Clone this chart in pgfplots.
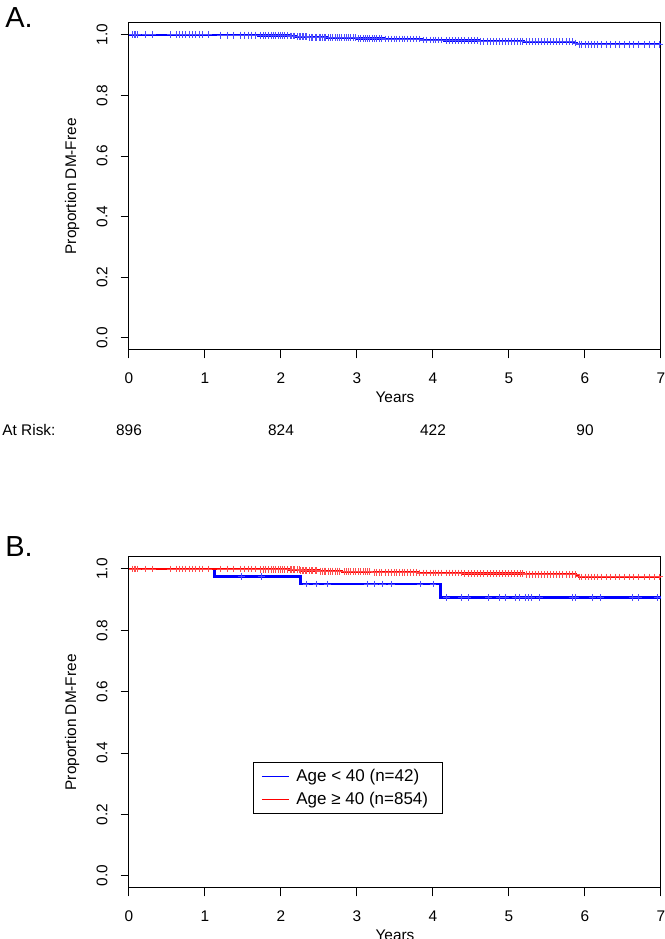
\documentclass[border=0pt]{standalone}
\usepackage{fontspec}
\setmainfont{Liberation Sans}
\usepackage{pgfplots}
\pgfplotsset{compat=1.18}
\begin{document}
\begin{tikzpicture}
\useasboundingbox (0pt,0pt) rectangle (332.5pt,469.5pt);
\pgfplotsset{kmaxis/.style={
  scale only axis, width=266pt,
  xmin=0,xmax=7,ymin=-0.04,ymax=1.04,
  xtick={0,1,2,3,4,5,6,7}, ytick={0,0.2,0.4,0.6,0.8,1.0},
  tick align=outside, xtick pos=bottom, ytick pos=left,
  major tick length=4.2pt,
  tick style={black, line width=0.5pt},
  axis line style={black, line width=0.5pt},
  ticklabel style={font=\fontsize{7.7}{9}\selectfont},
  /pgf/number format/assume math mode=true,
  yticklabel={\pgfmathprintnumber[fixed,fixed zerofill,precision=1]{\tick}},
  yticklabel style={rotate=90, anchor=south, yshift=3pt},
  xticklabel style={yshift=-3.5pt},
  label style={font=\fontsize{7.7}{9}\selectfont},
  xlabel={Years}, ylabel={Proportion DM-Free},
  ylabel style={at={(axis description cs:-0.107,0.5)}, anchor=center},
}}
% ---------------- Panel A ----------------
\begin{axis}[kmaxis, at={(64.5pt,294.5pt)}, anchor=south west, height=163.65pt,
  xlabel style={at={(axis description cs:0.5,-0.1436)}, anchor=center}]
\addplot[const plot, blue, line width=1.1pt] coordinates {
(0,1.000) (1.12,0.999) (1.70,0.998) (2.10,0.996) (2.20,0.994) (2.35,0.992) (2.60,0.990)
(3.00,0.988) (3.35,0.986) (3.85,0.983) (4.15,0.981) (4.60,0.979) (5.20,0.977) (5.85,0.973)
(5.90,0.969) (7.00,0.969)};
\addplot[only marks, mark=+, mark size=1.7pt, mark options={blue!70, line width=0.45pt}] coordinates {
(0.05,1.000) (0.07,1.000) (0.09,1.000) (0.11,1.000) (0.22,1.000) (0.31,1.000) (0.55,1.000) (0.62,1.000)
(0.66,1.000) (0.70,1.000) (0.74,1.000) (0.79,1.000) (0.83,1.000) (0.88,1.000) (0.93,1.000) (0.97,1.000) (1.05,1.000)
(1.20,0.999) (1.30,0.999) (1.38,0.999) (1.46,0.999) (1.52,0.999) (1.57,0.999) (1.61,0.999) (1.66,0.999)
(1.73,0.998) (1.77,0.998) (1.80,0.998) (1.84,0.998) (1.87,0.998) (1.90,0.998) (1.93,0.998) (1.96,0.998)
(1.99,0.998) (2.02,0.998) (2.05,0.998) (2.08,0.998)
(2.12,0.996) (2.14,0.996) (2.16,0.996) (2.18,0.996)
(2.22,0.994) (2.24,0.994) (2.26,0.994) (2.28,0.994) (2.30,0.994) (2.32,0.994) (2.34,0.994)
(2.37,0.992) (2.40,0.992) (2.42,0.992) (2.45,0.992) (2.47,0.992) (2.50,0.992) (2.52,0.992) (2.55,0.992) (2.57,0.992) (2.59,0.992)
(2.62,0.990) (2.65,0.990) (2.68,0.990) (2.71,0.990) (2.74,0.990) (2.77,0.990) (2.80,0.990) (2.83,0.990) (2.86,0.990)
(2.89,0.990) (2.92,0.990) (2.95,0.990) (2.98,0.990)
(3.02,0.988) (3.05,0.988) (3.08,0.988) (3.11,0.988) (3.14,0.988) (3.17,0.988) (3.20,0.988) (3.23,0.988) (3.26,0.988) (3.29,0.988) (3.32,0.988)
(3.38,0.986) (3.42,0.986) (3.45,0.986) (3.49,0.986) (3.52,0.986) (3.56,0.986) (3.60,0.986) (3.63,0.986) (3.67,0.986)
(3.70,0.986) (3.74,0.986) (3.78,0.986) (3.82,0.986)
(3.88,0.983) (3.92,0.983) (3.96,0.983) (4.00,0.983) (4.03,0.983) (4.07,0.983) (4.11,0.983)
(4.18,0.981) (4.22,0.981) (4.26,0.981) (4.30,0.981) (4.34,0.981) (4.38,0.981) (4.42,0.981) (4.46,0.981) (4.50,0.981) (4.54,0.981) (4.58,0.981)
(4.63,0.979) (4.67,0.979) (4.71,0.979) (4.75,0.979) (4.79,0.979) (4.83,0.979) (4.87,0.979) (4.91,0.979) (4.95,0.979)
(4.99,0.979) (5.03,0.979) (5.07,0.979) (5.11,0.979) (5.15,0.979) (5.18,0.979)
(5.23,0.977) (5.27,0.977) (5.31,0.977) (5.35,0.977) (5.39,0.977) (5.43,0.977) (5.47,0.977) (5.51,0.977) (5.55,0.977)
(5.59,0.977) (5.63,0.977) (5.67,0.977) (5.71,0.977) (5.75,0.977) (5.79,0.977) (5.83,0.977)
(5.87,0.973)
(5.93,0.969) (5.96,0.969) (6.00,0.969) (6.04,0.969) (6.08,0.969) (6.12,0.969) (6.17,0.969) (6.22,0.969) (6.28,0.969)
(6.33,0.969) (6.40,0.969) (6.46,0.969) (6.52,0.969) (6.58,0.969) (6.64,0.969) (6.70,0.969) (6.78,0.969) (6.85,0.969)
(6.92,0.969) (6.98,0.969)};
\end{axis}
% At-risk row
\node[anchor=west, font=\fontsize{7.7}{9}\selectfont, inner sep=0pt] at (1pt,254.5pt) {At Risk:};
\node[font=\fontsize{7.7}{9}\selectfont, inner sep=0pt] at (64.5pt,254.5pt) {896};
\node[font=\fontsize{7.7}{9}\selectfont, inner sep=0pt] at (140.5pt,254.5pt) {824};
\node[font=\fontsize{7.7}{9}\selectfont, inner sep=0pt] at (216.5pt,254.5pt) {422};
\node[font=\fontsize{7.7}{9}\selectfont, inner sep=0pt] at (292.5pt,254.5pt) {90};
% panel letters
\node[anchor=west, font=\fontsize{14.5}{16}\selectfont, inner sep=0pt] at (2.5pt,460.5pt) {A.};
\node[anchor=west, font=\fontsize{14.5}{16}\selectfont, inner sep=0pt] at (2.5pt,196pt) {B.};
% ---------------- Panel B ----------------
\begin{axis}[kmaxis, at={(64.5pt,25.5pt)}, anchor=south west, height=165.65pt,
  xlabel style={at={(axis description cs:0.5,-0.1419)}, anchor=center},
  legend style={at={(axis cs:1.63,0.371)}, anchor=north west, draw=black, line width=0.5pt,
    font=\fontsize{8.5}{9.5}\selectfont, inner xsep=2pt, inner ysep=1.2pt, row sep=0pt,
    cells={anchor=west, inner ysep=0.2pt}}]
\addplot[forget plot, const plot, blue, line width=1.4pt] coordinates {
(0,1.000) (1.12,0.976) (2.26,0.951) (4.10,0.908) (7.00,0.908)};
\addplot[forget plot, only marks, mark=+, mark size=1.7pt, mark options={blue!70, line width=0.45pt}] coordinates {
(1.48,0.976) (1.74,0.976)
(2.33,0.951) (2.46,0.951) (2.61,0.951) (3.14,0.951) (3.23,0.951) (3.34,0.951) (3.45,0.951) (3.83,0.951) (4.00,0.951)
(4.18,0.908) (4.38,0.908) (4.46,0.908) (4.73,0.908) (4.87,0.908) (4.95,0.908) (5.08,0.908) (5.14,0.908) (5.22,0.908)
(5.25,0.908) (5.30,0.908) (5.40,0.908) (5.83,0.908) (5.88,0.908) (6.10,0.908) (6.20,0.908) (6.63,0.908) (6.70,0.908) (6.95,0.908)};
\addplot[forget plot, const plot, red, line width=1.1pt] coordinates {
(0,1.000) (1.70,0.999) (2.10,0.997) (2.25,0.995) (2.50,0.993) (2.80,0.991) (3.20,0.989) (3.80,0.987)
(4.40,0.985) (5.20,0.983) (5.88,0.978) (5.92,0.974) (7.00,0.974)};
\addplot[forget plot, only marks, mark=+, mark size=1.7pt, mark options={red!70, line width=0.45pt}] coordinates {
(0.05,1.000) (0.07,1.000) (0.09,1.000) (0.11,1.000) (0.22,1.000) (0.31,1.000) (0.55,1.000) (0.62,1.000)
(0.66,1.000) (0.70,1.000) (0.74,1.000) (0.79,1.000) (0.83,1.000) (0.88,1.000) (0.93,1.000) (0.97,1.000) (1.05,1.000)
(1.20,1.000) (1.30,1.000) (1.38,1.000) (1.46,1.000) (1.52,1.000) (1.57,1.000) (1.61,1.000) (1.66,1.000)
(1.73,0.999) (1.77,0.999) (1.80,0.999) (1.84,0.999) (1.87,0.999) (1.90,0.999) (1.93,0.999) (1.96,0.999)
(1.99,0.999) (2.02,0.999) (2.05,0.999) (2.08,0.999)
(2.12,0.997) (2.14,0.997) (2.16,0.997) (2.18,0.997) (2.22,0.997) (2.24,0.997)
(2.26,0.995) (2.28,0.995) (2.30,0.995) (2.32,0.995) (2.34,0.995) (2.37,0.995) (2.40,0.995) (2.42,0.995) (2.45,0.995) (2.47,0.995)
(2.52,0.993) (2.55,0.993) (2.57,0.993) (2.59,0.993) (2.62,0.993) (2.65,0.993) (2.68,0.993) (2.71,0.993) (2.74,0.993) (2.77,0.993)
(2.83,0.991) (2.86,0.991) (2.89,0.991) (2.92,0.991) (2.95,0.991) (2.98,0.991) (3.02,0.991) (3.05,0.991) (3.08,0.991)
(3.11,0.991) (3.14,0.991) (3.17,0.991)
(3.23,0.989) (3.26,0.989) (3.29,0.989) (3.32,0.989) (3.38,0.989) (3.42,0.989) (3.45,0.989) (3.49,0.989) (3.52,0.989)
(3.56,0.989) (3.60,0.989) (3.63,0.989) (3.67,0.989) (3.70,0.989) (3.74,0.989) (3.78,0.989)
(3.82,0.987) (3.88,0.987) (3.92,0.987) (3.96,0.987) (4.00,0.987) (4.03,0.987) (4.07,0.987) (4.11,0.987) (4.18,0.987)
(4.22,0.987) (4.26,0.987) (4.30,0.987) (4.34,0.987) (4.38,0.987)
(4.42,0.985) (4.46,0.985) (4.50,0.985) (4.54,0.985) (4.58,0.985) (4.63,0.985) (4.67,0.985) (4.71,0.985) (4.75,0.985)
(4.79,0.985) (4.83,0.985) (4.87,0.985) (4.91,0.985) (4.95,0.985) (4.99,0.985) (5.03,0.985) (5.07,0.985) (5.11,0.985)
(5.15,0.985) (5.18,0.985)
(5.23,0.983) (5.27,0.983) (5.31,0.983) (5.35,0.983) (5.39,0.983) (5.43,0.983) (5.47,0.983) (5.51,0.983) (5.55,0.983)
(5.59,0.983) (5.63,0.983) (5.67,0.983) (5.71,0.983) (5.75,0.983) (5.79,0.983) (5.83,0.983) (5.87,0.983)
(5.93,0.974) (5.96,0.974) (6.00,0.974) (6.04,0.974) (6.08,0.974) (6.12,0.974) (6.17,0.974) (6.22,0.974) (6.28,0.974)
(6.33,0.974) (6.40,0.974) (6.46,0.974) (6.52,0.974) (6.58,0.974) (6.64,0.974) (6.70,0.974) (6.78,0.974) (6.85,0.974)
(6.92,0.974) (6.98,0.974)};
\addlegendimage{legend image code/.code={\path (-2pt,0pt) (15pt,0pt); \draw[draw=blue, line width=0.5pt] (0pt,0pt) -- (13.5pt,0pt);}}
\addlegendentry{Age < 40 (n=42)}
\addlegendimage{legend image code/.code={\path (-2pt,0pt) (15pt,0pt); \draw[draw=red, line width=0.5pt] (0pt,0pt) -- (13.5pt,0pt);}}
\addlegendentry{Age ≥ 40 (n=854)\hspace*{3pt}}
\end{axis}
\end{tikzpicture}
\end{document}
